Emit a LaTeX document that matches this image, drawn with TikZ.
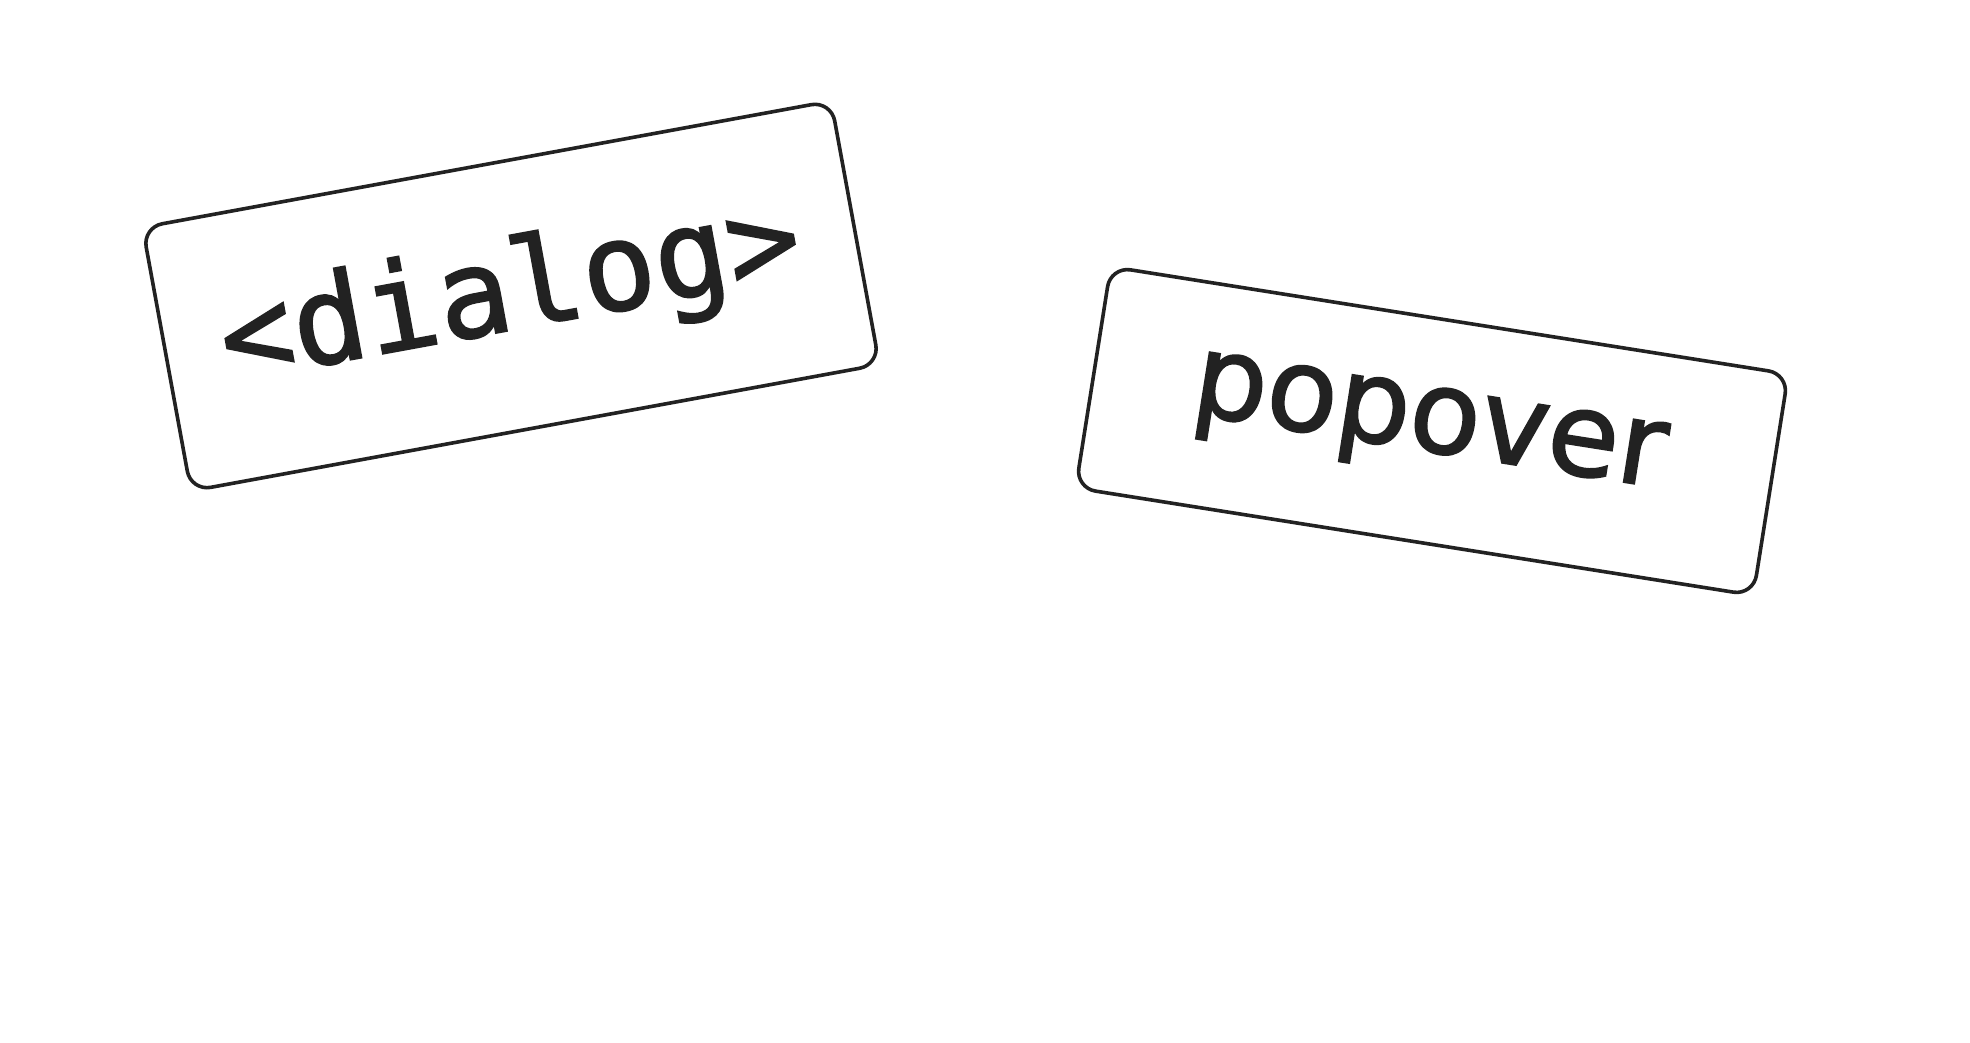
\documentclass[tikz,border=0pt]{standalone}
\usepackage{fontspec}
\newfontfamily\labelmono[FakeBold=1.6]{DejaVu Sans Mono}
\newfontfamily\labelsans[FakeBold=1.6]{DejaVu Sans}
\definecolor{ink}{HTML}{222222}
\begin{document}
\begin{tikzpicture}[x=1pt,y=-1pt,
  tagbox/.style={draw=ink, line width=3.6pt, rounded corners=20pt, fill=white,
    text=ink, inner sep=0pt, align=center}]
\useasboundingbox[fill=white] (0,0) rectangle (1970,1042);
\node[tagbox, minimum width=700pt, minimum height=268pt, rotate=10.4,
  font=\labelmono\fontsize{122}{124}\selectfont] (dialog) at (511,296) {\raisebox{-4pt}{<dialog>}};
\node[tagbox, minimum width=686pt, minimum height=224pt, rotate=-9,
  font=\labelsans\fontsize{116}{118}\selectfont] (popover) at (1432,431) {\hspace*{-8pt}popover};
\end{tikzpicture}
\end{document}
